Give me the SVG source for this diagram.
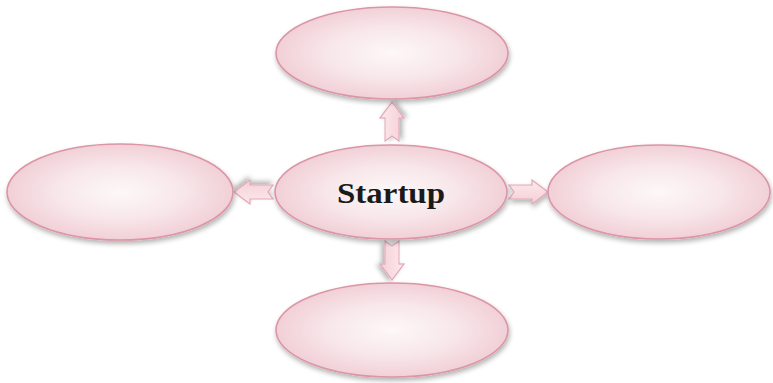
<svg xmlns="http://www.w3.org/2000/svg" width="773" height="383" viewBox="0 0 773 383">
  <defs>
    <radialGradient id="g" cx="50%" cy="50%" r="50%">
      <stop offset="0" stop-color="#fdf8f7"/>
      <stop offset="0.55" stop-color="#f8e7ea"/>
      <stop offset="1" stop-color="#f1d0d7"/>
    </radialGradient>
    <linearGradient id="ag" x1="0" y1="0" x2="0" y2="1">
      <stop offset="0" stop-color="#fceaed"/>
      <stop offset="1" stop-color="#f4cfd7"/>
    </linearGradient>
    <filter id="sh" x="-20%" y="-20%" width="140%" height="150%">
      <feGaussianBlur in="SourceAlpha" stdDeviation="2.5"/>
      <feOffset dx="1" dy="3" result="b"/>
      <feComponentTransfer><feFuncA type="linear" slope="0.3"/></feComponentTransfer>
      <feMerge><feMergeNode/><feMergeNode in="SourceGraphic"/></feMerge>
    </filter>
    <path id="arr" d="M-20,-7 L3,-7 L3,-12 L19,0 L3,12 L3,7 L-20,7 L-15,0 Z"/>
  </defs>
  <style>
    .node ellipse { fill: url(#g); stroke: #dc95a5; stroke-width: 1.6; filter: url(#sh); }
    .conn use { fill: url(#ag); stroke: #e3a8b5; stroke-width: 1.2; filter: url(#sh); }
    .lbl { font-family: "Liberation Serif", "DejaVu Serif", serif; font-weight: bold; font-size: 30px; fill: #1a1a1a; text-anchor: middle; }
  </style>
  <rect width="773" height="383" fill="#ffffff"/>
  <g id="connectors" class="conn">
    <use href="#arr" transform="translate(392,121) rotate(-90)"/>
    <use href="#arr" transform="translate(253,192) rotate(180)"/>
    <use href="#arr" transform="translate(529,192)"/>
    <use href="#arr" transform="translate(392,261) rotate(90)"/>
  </g>
  <g id="node-top" class="node"><ellipse cx="392" cy="53" rx="116" ry="46"/></g>
  <g id="node-left" class="node"><ellipse cx="120" cy="192" rx="113" ry="48"/></g>
  <g id="node-center" class="node">
    <ellipse cx="391" cy="192" rx="116" ry="47"/>
    <text class="lbl" x="391" y="203" textLength="108" lengthAdjust="spacingAndGlyphs">Startup</text>
  </g>
  <g id="node-right" class="node"><ellipse cx="659" cy="192" rx="111" ry="47"/></g>
  <g id="node-bottom" class="node"><ellipse cx="392" cy="330" rx="116" ry="47"/></g>
</svg>
